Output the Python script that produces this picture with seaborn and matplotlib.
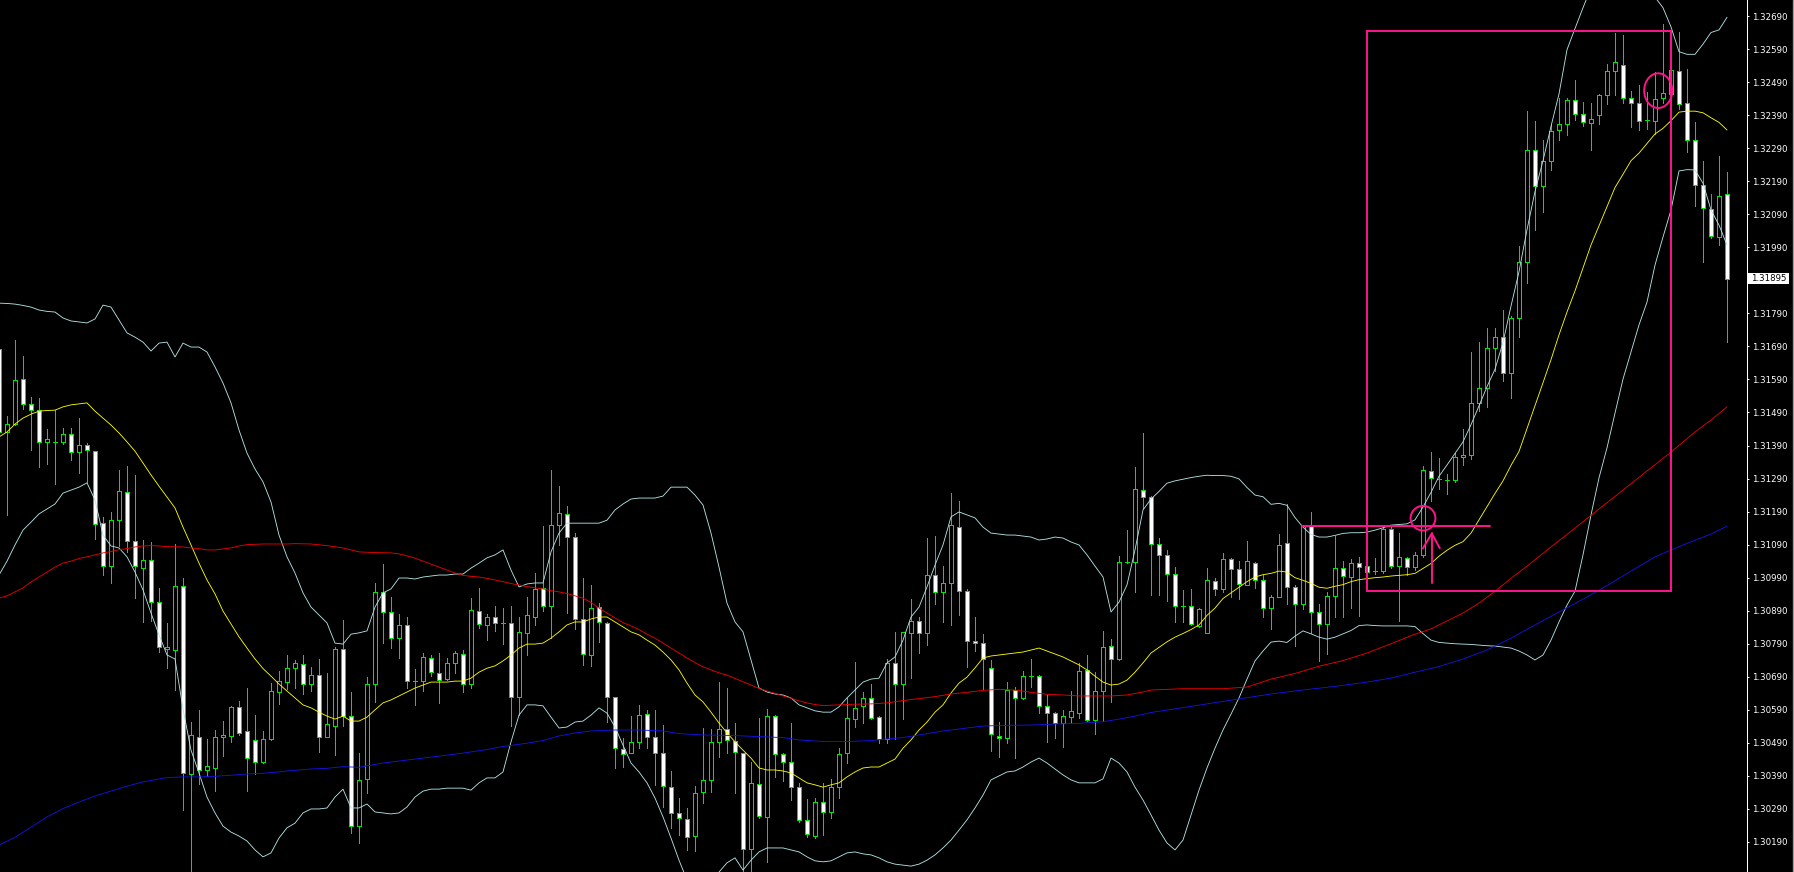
"""
Hourly price chart in MT4 "green on black" style: candles, Bollinger bands,
two long moving averages and the hand-drawn breakout markup.
"""

import matplotlib
matplotlib.use("Agg")
import matplotlib.pyplot as plt
from matplotlib.lines import Line2D
from matplotlib.patches import Ellipse, Rectangle
import numpy as np
import pandas as pd
import seaborn as sns

# ---------------------------------------------------------------------------
# Data (bar -1 is the half-visible candle on the left edge)

FIRST_BAR = -1

OPEN = [
    1.31682, 1.31432, 1.31454, 1.31591, 1.31515, 1.31496, 1.31401, 1.31402, 1.31402, 1.31424,
    1.31370, 1.31391, 1.31372, 1.31154, 1.31024, 1.31164, 1.31248, 1.31102, 1.31020, 1.31043,
    1.30915, 1.30773, 1.30770, 1.30966, 1.30395, 1.30509, 1.30408, 1.30415, 1.30507, 1.30510,
    1.30598, 1.30525, 1.30498, 1.30432, 1.30501, 1.30645, 1.30673, 1.30716, 1.30729, 1.30667,
    1.30694, 1.30509, 1.30542, 1.30773, 1.30572, 1.30238, 1.30380, 1.30667, 1.30946, 1.30885,
    1.30806, 1.30846, 1.30677, 1.30677, 1.30746, 1.30700, 1.30682, 1.30731, 1.30758, 1.30667,
    1.30888, 1.30847, 1.30870, 1.30854, 1.30852, 1.30630, 1.30824, 1.30872, 1.30958, 1.30905,
    1.31149, 1.31182, 1.31114, 1.30864, 1.30755, 1.30900, 1.30854, 1.30628, 1.30470, 1.30458,
    1.30492, 1.30576, 1.30507, 1.30458, 1.30357, 1.30277, 1.30259, 1.30209, 1.30340, 1.30379,
    1.30492, 1.30531, 1.30497, 1.30458, 1.30168, 1.30365, 1.30267, 1.30571, 1.30455, 1.30433,
    1.30357, 1.30257, 1.30209, 1.30310, 1.30280, 1.30355, 1.30458, 1.30561, 1.30602, 1.30625,
    1.30567, 1.30501, 1.30731, 1.30667, 1.30822, 1.30859, 1.30822, 1.30998, 1.30948, 1.30975,
    1.31144, 1.30951, 1.30797, 1.30791, 1.30718, 1.30512, 1.30504, 1.30650, 1.30627, 1.30692,
    1.30692, 1.30602, 1.30579, 1.30549, 1.30567, 1.30579, 1.30711, 1.30560, 1.30648, 1.30784,
    1.30743, 1.31038, 1.31038, 1.31255, 1.31235, 1.31092, 1.31060, 1.31001, 1.30903, 1.30903,
    1.30845, 1.30824, 1.30980, 1.30955, 1.31047, 1.31016, 1.30967, 1.31035, 1.30984, 1.30898,
    1.30933, 1.31094, 1.30961, 1.30910, 1.31146, 1.30885, 1.30849, 1.30936, 1.31020, 1.30992,
    1.31035, 1.31024, 1.31009, 1.31009, 1.31138, 1.31026, 1.31050, 1.31021, 1.31058, 1.31314,
    1.31288, 1.31285, 1.31285, 1.31354, 1.31360, 1.31519, 1.31563, 1.31684, 1.31717, 1.31609,
    1.31777, 1.31945, 1.32283, 1.32174, 1.32252, 1.32345, 1.32362, 1.32437, 1.32393, 1.32365,
    1.32389, 1.32451, 1.32524, 1.32541, 1.32443, 1.32426, 1.32376, 1.32373, 1.32443, 1.32455,
    1.32524, 1.32426, 1.32316, 1.32177, 1.32107, 1.32020, 1.32150,
]

HIGH = [
    1.31705, 1.31479, 1.31709, 1.31661, 1.31537, 1.31533, 1.31440, 1.31496, 1.31443, 1.31443,
    1.31473, 1.31398, 1.31372, 1.31175, 1.31189, 1.31316, 1.31328, 1.31301, 1.31105, 1.31097,
    1.30960, 1.30853, 1.31091, 1.30990, 1.30552, 1.30591, 1.30501, 1.30529, 1.30557, 1.30602,
    1.30617, 1.30656, 1.30574, 1.30526, 1.30672, 1.30709, 1.30756, 1.30741, 1.30756, 1.30721,
    1.30744, 1.30702, 1.30781, 1.30862, 1.30643, 1.30458, 1.30688, 1.30973, 1.31031, 1.30932,
    1.30880, 1.30872, 1.30713, 1.30761, 1.30756, 1.30761, 1.30748, 1.30769, 1.30771, 1.30928,
    1.30958, 1.30880, 1.30904, 1.30898, 1.30904, 1.30872, 1.30931, 1.31003, 1.31146, 1.31316,
    1.31268, 1.31207, 1.31124, 1.30988, 1.30968, 1.30912, 1.30857, 1.30630, 1.30504, 1.30571,
    1.30605, 1.30589, 1.30589, 1.30544, 1.30405, 1.30322, 1.30292, 1.30360, 1.30534, 1.30531,
    1.30673, 1.30655, 1.30549, 1.30458, 1.30433, 1.30564, 1.30592, 1.30574, 1.30460, 1.30549,
    1.30368, 1.30320, 1.30322, 1.30370, 1.30381, 1.30474, 1.30627, 1.30734, 1.30643, 1.30668,
    1.30571, 1.30745, 1.30825, 1.30826, 1.30924, 1.30870, 1.31109, 1.31116, 1.31025, 1.31245,
    1.31222, 1.30955, 1.30870, 1.30819, 1.30741, 1.30554, 1.30675, 1.30660, 1.30708, 1.30743,
    1.30695, 1.30635, 1.30582, 1.30590, 1.30647, 1.30731, 1.30756, 1.30706, 1.30829, 1.30804,
    1.31056, 1.31134, 1.31326, 1.31427, 1.31237, 1.31111, 1.31075, 1.31021, 1.30953, 1.30955,
    1.30898, 1.31018, 1.30989, 1.31064, 1.31050, 1.31041, 1.31101, 1.31037, 1.30997, 1.30938,
    1.31123, 1.31212, 1.30967, 1.31149, 1.31189, 1.30910, 1.30946, 1.31117, 1.31041, 1.31047,
    1.31054, 1.31026, 1.31049, 1.31143, 1.31143, 1.31126, 1.31052, 1.31069, 1.31329, 1.31371,
    1.31352, 1.31304, 1.31368, 1.31441, 1.31673, 1.31702, 1.31746, 1.31745, 1.31800, 1.31783,
    1.31993, 1.32402, 1.32373, 1.32316, 1.32364, 1.32441, 1.32443, 1.32495, 1.32431, 1.32428,
    1.32455, 1.32544, 1.32640, 1.32632, 1.32463, 1.32481, 1.32460, 1.32521, 1.32667, 1.32535,
    1.32643, 1.32530, 1.32368, 1.32250, 1.32150, 1.32266, 1.32219,
]

LOW = [
    1.31410, 1.31181, 1.31451, 1.31501, 1.31375, 1.31326, 1.31333, 1.31273, 1.31394, 1.31347,
    1.31308, 1.31279, 1.31106, 1.30999, 1.30973, 1.31085, 1.31069, 1.30928, 1.30855, 1.30859,
    1.30765, 1.30718, 1.30650, 1.30286, 1.30085, 1.30366, 1.30389, 1.30344, 1.30451, 1.30492,
    1.30513, 1.30344, 1.30395, 1.30428, 1.30499, 1.30608, 1.30653, 1.30655, 1.30638, 1.30648,
    1.30461, 1.30507, 1.30453, 1.30542, 1.30216, 1.30186, 1.30337, 1.30615, 1.30791, 1.30776,
    1.30748, 1.30655, 1.30605, 1.30648, 1.30691, 1.30612, 1.30680, 1.30702, 1.30643, 1.30657,
    1.30837, 1.30801, 1.30830, 1.30789, 1.30541, 1.30574, 1.30756, 1.30847, 1.30889, 1.30806,
    1.31089, 1.30884, 1.30834, 1.30726, 1.30724, 1.30796, 1.30554, 1.30413, 1.30418, 1.30458,
    1.30473, 1.30476, 1.30362, 1.30297, 1.30231, 1.30211, 1.30166, 1.30164, 1.30309, 1.30340,
    1.30446, 1.30458, 1.30337, 1.30085, 1.30085, 1.30262, 1.30130, 1.30388, 1.30376, 1.30317,
    1.30252, 1.30204, 1.30201, 1.30211, 1.30263, 1.30322, 1.30430, 1.30537, 1.30551, 1.30562,
    1.30489, 1.30491, 1.30501, 1.30561, 1.30687, 1.30761, 1.30786, 1.30910, 1.30857, 1.30847,
    1.30877, 1.30721, 1.30769, 1.30652, 1.30464, 1.30446, 1.30491, 1.30443, 1.30622, 1.30660,
    1.30581, 1.30494, 1.30506, 1.30479, 1.30549, 1.30564, 1.30557, 1.30516, 1.30557, 1.30613,
    1.30741, 1.31035, 1.30948, 1.31200, 1.30938, 1.30938, 1.30918, 1.30856, 1.30856, 1.30847,
    1.30842, 1.30824, 1.30938, 1.30947, 1.30933, 1.30924, 1.30967, 1.30959, 1.30872, 1.30836,
    1.30933, 1.30910, 1.30782, 1.30896, 1.30824, 1.30737, 1.30758, 1.30870, 1.30870, 1.30898,
    1.30874, 1.31004, 1.31001, 1.31004, 1.31018, 1.30859, 1.30999, 1.31012, 1.31052, 1.31223,
    1.31257, 1.31244, 1.31281, 1.31331, 1.31348, 1.31493, 1.31508, 1.31615, 1.31586, 1.31534,
    1.31717, 1.31881, 1.32043, 1.32096, 1.32223, 1.32316, 1.32331, 1.32376, 1.32356, 1.32283,
    1.32362, 1.32423, 1.32452, 1.32426, 1.32353, 1.32345, 1.32347, 1.32333, 1.32426, 1.32450,
    1.32408, 1.32277, 1.32115, 1.31945, 1.32018, 1.31997, 1.31702,
]

CLOSE = [
    1.31432, 1.31454, 1.31589, 1.31515, 1.31496, 1.31402, 1.31410, 1.31402, 1.31424, 1.31370,
    1.31391, 1.31375, 1.31152, 1.31024, 1.31164, 1.31251, 1.31102, 1.31024, 1.31043, 1.30917,
    1.30779, 1.30779, 1.30966, 1.30398, 1.30514, 1.30408, 1.30419, 1.30507, 1.30514, 1.30598,
    1.30521, 1.30443, 1.30432, 1.30501, 1.30647, 1.30678, 1.30718, 1.30731, 1.30668, 1.30694,
    1.30507, 1.30546, 1.30773, 1.30572, 1.30238, 1.30378, 1.30667, 1.30946, 1.30885, 1.30806,
    1.30846, 1.30677, 1.30677, 1.30749, 1.30704, 1.30680, 1.30731, 1.30761, 1.30667, 1.30892,
    1.30849, 1.30870, 1.30854, 1.30854, 1.30630, 1.30825, 1.30876, 1.30956, 1.30905, 1.31148,
    1.31185, 1.31112, 1.30864, 1.30758, 1.30897, 1.30856, 1.30628, 1.30473, 1.30456, 1.30492,
    1.30573, 1.30507, 1.30458, 1.30361, 1.30277, 1.30262, 1.30206, 1.30337, 1.30379, 1.30492,
    1.30531, 1.30499, 1.30461, 1.30168, 1.30368, 1.30269, 1.30571, 1.30455, 1.30433, 1.30357,
    1.30257, 1.30213, 1.30312, 1.30280, 1.30355, 1.30455, 1.30564, 1.30597, 1.30625, 1.30566,
    1.30501, 1.30731, 1.30667, 1.30825, 1.30859, 1.30822, 1.30998, 1.30946, 1.30975, 1.31149,
    1.30951, 1.30797, 1.30791, 1.30744, 1.30517, 1.30504, 1.30650, 1.30625, 1.30692, 1.30692,
    1.30602, 1.30579, 1.30551, 1.30571, 1.30586, 1.30708, 1.30560, 1.30648, 1.30781, 1.30743,
    1.31038, 1.31038, 1.31257, 1.31235, 1.31091, 1.31060, 1.31001, 1.30903, 1.30903, 1.30849,
    1.30895, 1.30982, 1.30955, 1.31047, 1.31015, 1.30972, 1.31039, 1.30984, 1.30898, 1.30933,
    1.31090, 1.30961, 1.30910, 1.31147, 1.30885, 1.30849, 1.30936, 1.31018, 1.30995, 1.31035,
    1.31021, 1.31007, 1.31009, 1.31138, 1.31026, 1.31052, 1.31021, 1.31058, 1.31317, 1.31291,
    1.31288, 1.31285, 1.31354, 1.31360, 1.31519, 1.31563, 1.31684, 1.31717, 1.31609, 1.31775,
    1.31945, 1.32283, 1.32174, 1.32252, 1.32341, 1.32362, 1.32435, 1.32393, 1.32368, 1.32377,
    1.32451, 1.32524, 1.32551, 1.32443, 1.32426, 1.32373, 1.32376, 1.32440, 1.32457, 1.32528,
    1.32423, 1.32314, 1.32179, 1.32109, 1.32024, 1.32145, 1.31895,
]

# Bollinger bands and their middle line, one value per bar (same bars as OPEN)
BB_UPPER = [
    1.31821, 1.31820, 1.31818, 1.31814, 1.31809, 1.31800, 1.31796, 1.31794, 1.31776, 1.31767,
    1.31764, 1.31761, 1.31773, 1.31815, 1.31809, 1.31770, 1.31731, 1.31718, 1.31703, 1.31676,
    1.31700, 1.31703, 1.31658, 1.31700, 1.31688, 1.31688, 1.31673, 1.31628, 1.31579, 1.31519,
    1.31437, 1.31367, 1.31319, 1.31280, 1.31219, 1.31119, 1.31053, 1.31004, 1.30944, 1.30901,
    1.30877, 1.30853, 1.30792, 1.30789, 1.30819, 1.30823, 1.30829, 1.30901, 1.30944, 1.30956,
    1.30989, 1.30989, 1.30986, 1.30992, 1.30995, 1.30998, 1.30998, 1.31001, 1.31001, 1.31019,
    1.31034, 1.31050, 1.31059, 1.31074, 1.31013, 1.30962, 1.30971, 1.30974, 1.30974, 1.31068,
    1.31125, 1.31155, 1.31155, 1.31155, 1.31155, 1.31155, 1.31164, 1.31195, 1.31213, 1.31228,
    1.31231, 1.31231, 1.31231, 1.31237, 1.31264, 1.31264, 1.31264, 1.31240, 1.31210, 1.31125,
    1.31022, 1.30913, 1.30856, 1.30826, 1.30741, 1.30656, 1.30644, 1.30638, 1.30635, 1.30626,
    1.30605, 1.30596, 1.30587, 1.30583, 1.30583, 1.30599, 1.30626, 1.30650, 1.30674, 1.30683,
    1.30686, 1.30732, 1.30750, 1.30801, 1.30871, 1.30901, 1.30962, 1.31028, 1.31089, 1.31174,
    1.31189, 1.31180, 1.31171, 1.31143, 1.31125, 1.31122, 1.31119, 1.31119, 1.31116, 1.31113,
    1.31104, 1.31107, 1.31113, 1.31110, 1.31098, 1.31089, 1.31059, 1.31025, 1.30992, 1.30886,
    1.30916, 1.30968, 1.31074, 1.31195, 1.31228, 1.31251, 1.31276, 1.31283, 1.31288, 1.31293,
    1.31297, 1.31300, 1.31299, 1.31299, 1.31297, 1.31289, 1.31263, 1.31240, 1.31235, 1.31212,
    1.31215, 1.31209, 1.31172, 1.31143, 1.31121, 1.31113, 1.31113, 1.31118, 1.31124, 1.31126,
    1.31126, 1.31128, 1.31134, 1.31141, 1.31149, 1.31151, 1.31153, 1.31165, 1.31204, 1.31248,
    1.31297, 1.31331, 1.31366, 1.31401, 1.31453, 1.31510, 1.31568, 1.31621, 1.31702, 1.31812,
    1.31916, 1.32043, 1.32159, 1.32252, 1.32356, 1.32454, 1.32588, 1.32652, 1.32715, 1.32775,
    1.32829, 1.32866, 1.32890, 1.32896, 1.32884, 1.32853, 1.32805, 1.32747, 1.32715, 1.32657,
    1.32582, 1.32574, 1.32574, 1.32605, 1.32640, 1.32648, 1.32686,
]

BB_LOWER = [
    1.30998, 1.31040, 1.31089, 1.31134, 1.31158, 1.31183, 1.31198, 1.31213, 1.31246, 1.31255,
    1.31264, 1.31277, 1.31225, 1.31119, 1.31086, 1.31080, 1.31053, 1.31007, 1.30953, 1.30883,
    1.30817, 1.30756, 1.30744, 1.30593, 1.30468, 1.30399, 1.30326, 1.30278, 1.30238, 1.30220,
    1.30208, 1.30193, 1.30166, 1.30145, 1.30157, 1.30202, 1.30233, 1.30247, 1.30278, 1.30290,
    1.30290, 1.30293, 1.30326, 1.30350, 1.30293, 1.30293, 1.30305, 1.30281, 1.30278, 1.30275,
    1.30278, 1.30296, 1.30326, 1.30344, 1.30350, 1.30350, 1.30353, 1.30353, 1.30353, 1.30347,
    1.30369, 1.30384, 1.30384, 1.30402, 1.30493, 1.30574, 1.30605, 1.30605, 1.30602, 1.30568,
    1.30535, 1.30538, 1.30553, 1.30556, 1.30574, 1.30596, 1.30580, 1.30538, 1.30483, 1.30429,
    1.30402, 1.30369, 1.30323, 1.30266, 1.30202, 1.30135, 1.30075, 1.30051, 1.30045, 1.30069,
    1.30099, 1.30127, 1.30142, 1.30105, 1.30135, 1.30160, 1.30172, 1.30172, 1.30172, 1.30166,
    1.30160, 1.30145, 1.30133, 1.30130, 1.30133, 1.30145, 1.30157, 1.30160, 1.30154, 1.30151,
    1.30142, 1.30130, 1.30123, 1.30120, 1.30117, 1.30123, 1.30135, 1.30151, 1.30172, 1.30196,
    1.30226, 1.30257, 1.30293, 1.30332, 1.30378, 1.30390, 1.30402, 1.30405, 1.30417, 1.30432,
    1.30444, 1.30429, 1.30411, 1.30393, 1.30378, 1.30369, 1.30369, 1.30369, 1.30381, 1.30444,
    1.30429, 1.30402, 1.30356, 1.30317, 1.30272, 1.30226, 1.30187, 1.30166, 1.30196, 1.30272,
    1.30347, 1.30414, 1.30474, 1.30529, 1.30577, 1.30626, 1.30683, 1.30738, 1.30768, 1.30795,
    1.30798, 1.30794, 1.30813, 1.30829, 1.30820, 1.30810, 1.30804, 1.30810, 1.30820, 1.30830,
    1.30845, 1.30847, 1.30845, 1.30844, 1.30844, 1.30844, 1.30844, 1.30842, 1.30821, 1.30801,
    1.30794, 1.30792, 1.30790, 1.30789, 1.30788, 1.30786, 1.30784, 1.30783, 1.30780, 1.30777,
    1.30768, 1.30756, 1.30741, 1.30756, 1.30801, 1.30856, 1.30907, 1.30949, 1.31059, 1.31180,
    1.31292, 1.31383, 1.31488, 1.31591, 1.31673, 1.31755, 1.31824, 1.31936, 1.32021, 1.32103,
    1.32221, 1.32225, 1.32224, 1.32184, 1.32103, 1.32057, 1.31997,
]

BB_MIDDLE = [
    1.31416, 1.31431, 1.31455, 1.31473, 1.31485, 1.31494, 1.31496, 1.31497, 1.31507, 1.31513,
    1.31516, 1.31519, 1.31494, 1.31473, 1.31452, 1.31428, 1.31401, 1.31373, 1.31337, 1.31301,
    1.31267, 1.31234, 1.31201, 1.31143, 1.31089, 1.31034, 1.30983, 1.30941, 1.30889, 1.30850,
    1.30811, 1.30777, 1.30744, 1.30715, 1.30692, 1.30668, 1.30647, 1.30626, 1.30605, 1.30596,
    1.30583, 1.30571, 1.30562, 1.30571, 1.30556, 1.30556, 1.30568, 1.30590, 1.30611, 1.30620,
    1.30632, 1.30644, 1.30656, 1.30665, 1.30674, 1.30674, 1.30674, 1.30677, 1.30677, 1.30686,
    1.30704, 1.30716, 1.30723, 1.30738, 1.30756, 1.30777, 1.30789, 1.30789, 1.30792, 1.30807,
    1.30826, 1.30847, 1.30856, 1.30856, 1.30865, 1.30871, 1.30871, 1.30856, 1.30841, 1.30826,
    1.30817, 1.30801, 1.30786, 1.30765, 1.30741, 1.30711, 1.30671, 1.30635, 1.30614, 1.30583,
    1.30550, 1.30520, 1.30493, 1.30468, 1.30444, 1.30414, 1.30408, 1.30408, 1.30405, 1.30399,
    1.30384, 1.30369, 1.30363, 1.30356, 1.30363, 1.30369, 1.30387, 1.30402, 1.30414, 1.30417,
    1.30417, 1.30429, 1.30441, 1.30474, 1.30499, 1.30529, 1.30553, 1.30583, 1.30605, 1.30641,
    1.30671, 1.30689, 1.30717, 1.30747, 1.30753, 1.30756, 1.30759, 1.30762, 1.30765, 1.30771,
    1.30777, 1.30768, 1.30759, 1.30750, 1.30738, 1.30726, 1.30711, 1.30692, 1.30674, 1.30665,
    1.30668, 1.30680, 1.30704, 1.30732, 1.30762, 1.30779, 1.30796, 1.30810, 1.30821, 1.30833,
    1.30847, 1.30876, 1.30898, 1.30927, 1.30944, 1.30961, 1.30978, 1.30992, 1.30999, 1.31003,
    1.31010, 1.31007, 1.30990, 1.30982, 1.30973, 1.30961, 1.30958, 1.30964, 1.30969, 1.30978,
    1.30984, 1.30987, 1.30990, 1.30992, 1.30995, 1.30997, 1.30999, 1.31003, 1.31018, 1.31033,
    1.31055, 1.31073, 1.31088, 1.31099, 1.31125, 1.31165, 1.31205, 1.31245, 1.31283, 1.31330,
    1.31372, 1.31441, 1.31510, 1.31580, 1.31650, 1.31725, 1.31794, 1.31858, 1.31928, 1.31997,
    1.32055, 1.32113, 1.32171, 1.32211, 1.32252, 1.32275, 1.32304, 1.32333, 1.32350, 1.32373,
    1.32399, 1.32402, 1.32402, 1.32397, 1.32382, 1.32368, 1.32345,
]

# Slow moving averages, read at selected bars
MA_RED_BAR = [
    -1, 0, 1, 2, 3, 4, 5, 6, 7, 8, 9, 10, 11, 12, 13, 14, 15, 16, 17, 18, 19, 20, 22, 23, 24,
    25, 26, 27, 28, 29, 30, 32, 35, 36, 38, 40, 42, 44, 46, 48, 49, 50, 51, 52, 53, 54, 55, 56,
    57, 58, 59, 60, 61, 62, 63, 64, 65, 66, 67, 68, 69, 70, 71, 72, 73, 74, 75, 76, 77, 78, 79,
    80, 81, 82, 83, 84, 85, 86, 87, 88, 89, 90, 91, 92, 93, 94, 95, 96, 97, 98, 99, 100, 101,
    102, 104, 106, 108, 110, 112, 114, 116, 118, 120, 122, 124, 126, 128, 130, 132, 134, 136,
    138, 140, 142, 143, 147, 152, 155, 158, 161, 164, 167, 170, 173, 176, 178, 180, 182, 184,
    186, 188, 190, 193, 196, 199, 202, 205, 208, 211, 213, 215,
]
MA_RED = [
    1.30928, 1.30935, 1.30947, 1.30959, 1.30977, 1.30992, 1.31007, 1.31022, 1.31034, 1.31040,
    1.31048, 1.31053, 1.31059, 1.31065, 1.31069, 1.31075, 1.31078, 1.31083, 1.31086, 1.31087,
    1.31086, 1.31084, 1.31083, 1.31080, 1.31078, 1.31074, 1.31074, 1.31077, 1.31080, 1.31086,
    1.31090, 1.31092, 1.31092, 1.31093, 1.31092, 1.31087, 1.31080, 1.31068, 1.31066, 1.31065,
    1.31062, 1.31056, 1.31049, 1.31040, 1.31031, 1.31022, 1.31013, 1.31004, 1.30997, 1.30994,
    1.30992, 1.30988, 1.30983, 1.30978, 1.30972, 1.30968, 1.30963, 1.30959, 1.30956, 1.30951,
    1.30947, 1.30942, 1.30935, 1.30928, 1.30915, 1.30898, 1.30883, 1.30868, 1.30854, 1.30844,
    1.30833, 1.30819, 1.30807, 1.30792, 1.30777, 1.30762, 1.30747, 1.30733, 1.30720, 1.30711,
    1.30702, 1.30695, 1.30685, 1.30675, 1.30665, 1.30655, 1.30647, 1.30640, 1.30632, 1.30625,
    1.30617, 1.30611, 1.30606, 1.30603, 1.30605, 1.30607, 1.30608, 1.30611, 1.30618, 1.30624,
    1.30630, 1.30638, 1.30643, 1.30649, 1.30652, 1.30650, 1.30643, 1.30637, 1.30635, 1.30632,
    1.30632, 1.30632, 1.30635, 1.30644, 1.30650, 1.30654, 1.30654, 1.30659, 1.30683, 1.30700,
    1.30722, 1.30739, 1.30762, 1.30790, 1.30819, 1.30835, 1.30859, 1.30883, 1.30913, 1.30949,
    1.30988, 1.31025, 1.31083, 1.31140, 1.31198, 1.31255, 1.31313, 1.31370, 1.31431, 1.31467,
    1.31507,
]

MA_BLUE_BAR = [
    -1, 1, 3, 5, 7, 9, 11, 13, 15, 17, 20, 22, 24, 26, 28, 30, 32, 34, 35, 38, 40, 42, 44, 47,
    50, 52, 55, 57, 60, 62, 65, 67, 69, 71, 73, 76, 79, 82, 84, 87, 91, 94, 97, 99, 102, 105,
    108, 110, 112, 114, 117, 119, 122, 125, 128, 131, 134, 137, 139, 141, 143, 146, 150, 154,
    158, 162, 166, 170, 173, 176, 179, 182, 185, 188, 191, 194, 197, 200, 203, 206, 210, 213,
    215,
]
MA_BLUE = [
    1.30181, 1.30204, 1.30235, 1.30266, 1.30291, 1.30311, 1.30329, 1.30344, 1.30359, 1.30372,
    1.30385, 1.30387, 1.30387, 1.30389, 1.30392, 1.30396, 1.30398, 1.30402, 1.30405, 1.30411,
    1.30413, 1.30418, 1.30416, 1.30429, 1.30438, 1.30444, 1.30453, 1.30459, 1.30470, 1.30479,
    1.30489, 1.30497, 1.30511, 1.30520, 1.30526, 1.30529, 1.30529, 1.30526, 1.30518, 1.30514,
    1.30512, 1.30509, 1.30506, 1.30499, 1.30494, 1.30494, 1.30497, 1.30502, 1.30506, 1.30514,
    1.30526, 1.30532, 1.30541, 1.30543, 1.30544, 1.30547, 1.30549, 1.30554, 1.30562, 1.30571,
    1.30582, 1.30593, 1.30608, 1.30623, 1.30638, 1.30650, 1.30661, 1.30674, 1.30686, 1.30704,
    1.30721, 1.30744, 1.30771, 1.30807, 1.30847, 1.30886, 1.30925, 1.30966, 1.31010, 1.31053,
    1.31094, 1.31122, 1.31146,
]

PRICE_LEVELS = [
    1.32690, 1.32590, 1.32490, 1.32390, 1.32290, 1.32190, 1.32090, 1.31990, 1.31890,
    1.31790, 1.31690, 1.31590, 1.31490, 1.31390, 1.31290, 1.31190, 1.31090, 1.30990,
    1.30890, 1.30790, 1.30690, 1.30590, 1.30490, 1.30390, 1.30290, 1.30190,
]

# ---------------------------------------------------------------------------
# Layout (pixels of the 1794 x 872 output)

W, H, DPI = 1794, 872, 100
PLOT_W = 1747            # price scale starts here
BAR_PX, BAR0_PX = 8, 7   # bar spacing and centre of bar 0
TOP_LEVEL_PX = 16        # y of the first price level
PX_PER_PRICE = 33040.0
LW = 0.62                # one device pixel

BG = "black"
CANDLE = "#00e600"
BAND = "#b4e6e6"
MIDDLE = "#ffff00"
RED = "#f00000"
BLUE = "#1414e6"
PINK = "#ff148c"

sns.set_style("dark", {"axes.facecolor": BG, "figure.facecolor": BG, "axes.grid": False})
plt.rcParams["font.family"] = ["DejaVu Sans"]

fig = plt.figure(figsize=(W / DPI, H / DPI), dpi=DPI, facecolor=BG)
ax = fig.add_axes([0, 0, PLOT_W / W, 1])
ax.set_facecolor(BG)

y_top = PRICE_LEVELS[0] + TOP_LEVEL_PX / PX_PER_PRICE
y_bottom = y_top - H / PX_PER_PRICE

# --- Candles ---
o, hi, lo, c = (np.array(v) for v in (OPEN, HIGH, LOW, CLOSE))
bars = np.arange(FIRST_BAR, FIRST_BAR + len(o))

ax.vlines(bars, lo, hi, colors=CANDLE, linewidth=LW, antialiased=False, zorder=2)
fills = np.where(c < o, "white", "black")
ax.bar(bars, np.abs(c - o), bottom=np.minimum(o, c), width=0.5, color=fills,
       edgecolor=CANDLE, linewidth=LW, antialiased=False, zorder=3)

# --- Indicator lines ---
frames = [
    pd.DataFrame({"bar": bars, "price": BB_UPPER, "line": "upper"}),
    pd.DataFrame({"bar": bars, "price": BB_LOWER, "line": "lower"}),
    pd.DataFrame({"bar": bars, "price": BB_MIDDLE, "line": "middle"}),
    pd.DataFrame({"bar": MA_RED_BAR, "price": MA_RED, "line": "red"}),
    pd.DataFrame({"bar": MA_BLUE_BAR, "price": MA_BLUE, "line": "blue"}),
]
lines = pd.concat(frames, ignore_index=True)
sns.lineplot(
    data=lines, x="bar", y="price", hue="line",
    palette={"upper": BAND, "lower": BAND, "middle": MIDDLE, "red": RED, "blue": BLUE},
    estimator=None, legend=False, linewidth=LW, ax=ax, zorder=4,
)

# --- Hand-drawn markup ---
box_top, box_bottom = 1.326455, 1.309482
ax.add_patch(Rectangle((170, box_bottom), 38, box_top - box_bottom, fill=False,
                       edgecolor=PINK, linewidth=1.4, zorder=6))
ax.plot([161.9, 185.4], [1.311464, 1.311464], color=PINK, linewidth=1.4, zorder=6)
ax.add_patch(Ellipse((177.0, 1.31170), 3.1, 0.000745, fill=False,
                     edgecolor=PINK, linewidth=1.4, zorder=6))
ax.plot([178.1, 178.1], [1.30973, 1.31124], color=PINK, linewidth=1.4, zorder=6)
ax.plot([177.0, 178.1, 179.1], [1.31079, 1.31124, 1.31079], color=PINK,
        linewidth=1.4, zorder=6)
ax.add_patch(Ellipse((206.4, 1.32464), 3.5, 0.00105, fill=False,
                     edgecolor=PINK, linewidth=1.4, zorder=6))

# --- Axes / price scale ---
ax.set_xlim(-BAR0_PX / BAR_PX, (PLOT_W - BAR0_PX) / BAR_PX)
ax.set_ylim(y_bottom, y_top)
ax.set_xlabel("")
ax.set_ylabel("")
ax.set_xticks([])
for side in ("top", "left", "bottom"):
    ax.spines[side].set_visible(False)
ax.spines["right"].set_color("white")
ax.spines["right"].set_linewidth(0.75)
ax.yaxis.tick_right()
ax.set_yticks(PRICE_LEVELS)
ax.set_yticklabels([f"{p:.5f}" for p in PRICE_LEVELS])
ax.tick_params(axis="y", colors="white", labelcolor="white", labelsize=6.2,
               length=1.5, width=0.75, pad=2.4, direction="out")

# current price tag
last = CLOSE[-1]
last_px = (y_top - last) * PX_PER_PRICE
fig.add_artist(Rectangle((1748 / W, (H - last_px - 5.5) / H), 41 / W, 11 / H,
                         transform=fig.transFigure, facecolor="white", edgecolor="none"))
fig.text((1748 + 20.5) / W, (H - last_px) / H, f"{last:.5f}", ha="center", va="center",
         color="black", fontsize=6.2)

# outer frame on the far right
fig.add_artist(Line2D([1792.5 / W, 1792.5 / W], [0, 1], transform=fig.transFigure,
                      color="#9a9a9a", linewidth=1.0))

fig.savefig("out.png", dpi=DPI, facecolor=BG)
plt.close(fig)
